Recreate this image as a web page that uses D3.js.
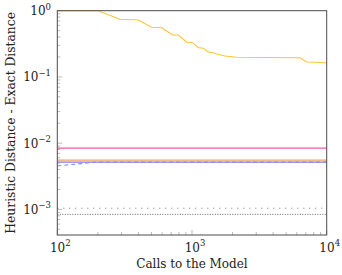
<!DOCTYPE html>
<html>
<head>
<meta charset="utf-8">
<script src="https://cdn.jsdelivr.net/npm/d3@7"></script>
<style>
  body { margin: 0; background: #fff; }
  text { font-family: "DejaVu Serif", serif; }
</style>
</head>
<body>
<svg id="chart" width="342" height="275"></svg>
<script>
  // data (calls, distance)
  var yellowCalls = [100, 201, 292, 399, 502, 596, 719, 791, 914, 1012, 1114, 1214, 1322, 1440, 1525, 1758, 2148, 6340, 7110, 10000];
  var yellowVals  = [1.0, 1.0, 0.742, 0.724, 0.562, 0.554, 0.430, 0.430, 0.334, 0.329, 0.277, 0.271, 0.238, 0.232, 0.222, 0.207, 0.198, 0.195, 0.168, 0.164];

  var blueDashCalls = [100, 120, 150, 190, 10000];
  var blueDashVals  = [0.00455, 0.0047, 0.0049, 0.00516, 0.00516];

  var pinkVal = 0.0084;
  var orangeVal = 0.00553;
  var blueVal = 0.00516;
  var grayUpperVal = 0.00104;
  var grayLowerVal = 0.00084;

  var xRange = [100, 10000];
  var yRange = [4.1e-4, 1];
  var xMajor = [100, 1000, 10000];
  var yMajor = [1, 0.1, 0.01, 0.001];

  var margin = { left: 57.3, right: 15.3, top: 10.7, bottom: 40 };
  var W = 342, H = 275;
  var svg = d3.select('#chart');

  var x = d3.scaleLog().domain(xRange).range([margin.left, W - margin.right]);
  var y = d3.scaleLog().domain(yRange).range([H - margin.bottom, margin.top]);

  // minor ticks
  function minors(lo, hi) {
    var out = [];
    for (var e = Math.floor(Math.log10(lo)); e <= Math.ceil(Math.log10(hi)); e++) {
      for (var m = 2; m <= 9; m++) {
        var v = m * Math.pow(10, e);
        if (v > lo && v < hi) out.push(v);
      }
    }
    return out;
  }

  var g = svg.append('g');
  var tickColor = '#aaa';

  g.selectAll('.ymin').data(minors(yRange[0], yRange[1])).join('line')
    .attr('x1', margin.left).attr('x2', margin.left + 3)
    .attr('y1', function (d) { return y(d); }).attr('y2', function (d) { return y(d); })
    .attr('stroke', tickColor).attr('stroke-width', 0.8);
  g.selectAll('.ymaj').data(yMajor).join('line')
    .attr('x1', margin.left).attr('x2', margin.left + 5)
    .attr('y1', function (d) { return y(d); }).attr('y2', function (d) { return y(d); })
    .attr('stroke', tickColor).attr('stroke-width', 0.8);
  g.selectAll('.xmin').data(minors(xRange[0], xRange[1])).join('line')
    .attr('y1', H - margin.bottom).attr('y2', H - margin.bottom - 3)
    .attr('x1', function (d) { return x(d); }).attr('x2', function (d) { return x(d); })
    .attr('stroke', tickColor).attr('stroke-width', 0.8);
  g.selectAll('.xmaj').data(xMajor).join('line')
    .attr('y1', H - margin.bottom).attr('y2', H - margin.bottom - 5)
    .attr('x1', function (d) { return x(d); }).attr('x2', function (d) { return x(d); })
    .attr('stroke', tickColor).attr('stroke-width', 0.8);

  var line = d3.line()
    .x(function (d) { return x(d[0]); })
    .y(function (d) { return y(d[1]); });

  function hline(v, color, width, dash) {
    g.append('path')
      .datum([[xRange[0], v], [xRange[1], v]])
      .attr('d', line)
      .attr('fill', 'none')
      .attr('stroke', color)
      .attr('stroke-width', width)
      .attr('stroke-dasharray', dash || null);
  }

  hline(grayUpperVal, '#777', 1, '1,5');
  hline(grayLowerVal, '#666', 1, '1,1.5');
  hline(pinkVal, '#ee5ca8', 1.2);
  hline(blueVal, '#7b7bff', 1.2);
  hline(orangeVal, '#f7a25e', 1.2);

  g.append('path')
    .datum(d3.zip(blueDashCalls, blueDashVals))
    .attr('d', line)
    .attr('fill', 'none')
    .attr('stroke', '#8a8aff')
    .attr('stroke-width', 1.1)
    .attr('stroke-dasharray', '4,3');

  g.append('path')
    .datum(d3.zip(yellowCalls, yellowVals))
    .attr('d', line)
    .attr('fill', 'none')
    .attr('stroke', '#ffc43a')
    .attr('stroke-width', 1.1);

  // frame
  svg.append('rect')
    .attr('x', margin.left).attr('y', margin.top)
    .attr('width', W - margin.left - margin.right)
    .attr('height', H - margin.top - margin.bottom)
    .attr('fill', 'none').attr('stroke', '#4a4a4a').attr('stroke-width', 1);

  // tick labels
  function powLabel(sel, exp) {
    sel.append('tspan').text('10');
    sel.append('tspan').attr('dy', -5.5).attr('font-size', 8.5).text(exp);
  }

  xMajor.forEach(function (v) {
    var t = svg.append('text')
      .attr('x', x(v) + 3).attr('y', 251.5)
      .attr('text-anchor', 'middle')
      .attr('font-size', 12).attr('fill', '#222');
    powLabel(t, String(Math.round(Math.log10(v))));
  });

  yMajor.forEach(function (v) {
    var e = Math.round(Math.log10(v));
    var t = svg.append('text')
      .attr('x', 51).attr('y', y(v) + 4.5)
      .attr('text-anchor', 'end')
      .attr('font-size', 12).attr('fill', '#222');
    powLabel(t, e === 0 ? '0' : '\u2212' + Math.abs(e));
  });

  // axis titles
  svg.append('text')
    .attr('x', x(Math.sqrt(xRange[0] * xRange[1]))).attr('y', 268)
    .attr('text-anchor', 'middle')
    .attr('font-size', 12).attr('fill', '#222')
    .text('Calls to the Model');

  svg.append('text')
    .attr('transform', 'translate(15,' + ((margin.top + H - margin.bottom) / 2) + ') rotate(-90)')
    .attr('text-anchor', 'middle')
    .attr('font-size', 12.3).attr('fill', '#222')
    .text('Heuristic Distance - Exact Distance');
</script>
</body>
</html>
